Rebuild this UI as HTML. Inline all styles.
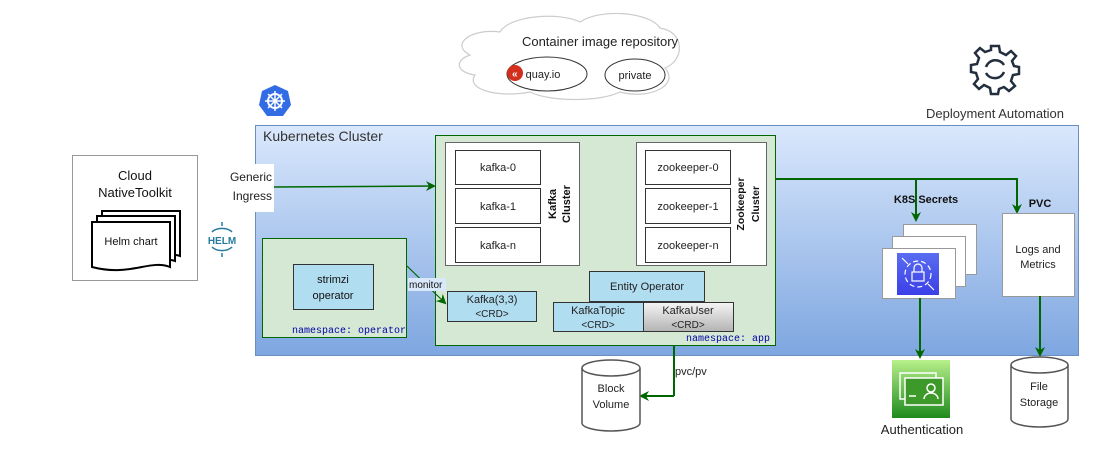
<!DOCTYPE html>
<html><head><meta charset="utf-8"><style>
html,body{margin:0;padding:0;background:#fff;}
svg{display:block;font-family:"Liberation Sans",sans-serif;}
</style></head><body>
<svg width="1120" height="460" viewBox="0 0 1120 460" xmlns="http://www.w3.org/2000/svg">
<defs>
<linearGradient id="kc" x1="0" y1="0" x2="0" y2="1"><stop offset="0" stop-color="#dae8fc"/><stop offset="1" stop-color="#7ea6e0"/></linearGradient>
<linearGradient id="gu" x1="0" y1="0" x2="0" y2="1"><stop offset="0" stop-color="#f5f5f5"/><stop offset="1" stop-color="#b3b3b3"/></linearGradient>
<linearGradient id="sec" x1="0" y1="0" x2="0" y2="1"><stop offset="0" stop-color="#5a6df0"/><stop offset="1" stop-color="#3b3fe8"/></linearGradient>
<linearGradient id="au" x1="0" y1="0" x2="0" y2="1"><stop offset="0" stop-color="#b8f08a"/><stop offset="1" stop-color="#1e8a1e"/></linearGradient>
<marker id="ar" markerWidth="10" markerHeight="10" refX="8" refY="5" orient="auto" markerUnits="userSpaceOnUse"><path d="M0,0 L10,5 L0,10 L3,5 z" fill="#006600"/></marker>
</defs>

<!-- cloud -->
<path d="M470,55 C450,45 470,28 500,32 C510,15 560,12 580,22 C600,8 650,12 660,28 C685,32 685,60 665,68 C680,85 650,100 620,92 C600,102 550,102 530,92 C500,98 465,90 475,75 C455,72 455,60 470,55 z" fill="#fff" stroke="#cccccc" stroke-width="1.2"/>
<text x="600" y="46" font-size="13" text-anchor="middle" fill="#222">Container image repository</text>
<ellipse cx="547" cy="74" rx="40" ry="17" fill="#fff" stroke="#333"/>
<circle cx="515" cy="73" r="8" fill="#d32f1e"/>
<text x="512" y="77" font-size="10" fill="#fff" font-weight="bold">«</text>
<text x="543" y="78" font-size="11" text-anchor="middle" fill="#222">quay.io</text>
<ellipse cx="635" cy="75" rx="30" ry="16" fill="#fff" stroke="#333"/>
<text x="635" y="79" font-size="11" text-anchor="middle" fill="#222">private</text>

<!-- gear -->
<g transform="translate(995,69)" fill="none" stroke="#232f3e" stroke-width="2.5">
<path d="M-4,-23 L4,-23 L5,-17 L11,-14 L16,-18 L21,-13 L17,-8 L19,-3 L24,-2 L24,5 L18,6 L16,12 L20,17 L14,22 L9,18 L4,20 L3,25 L-4,25 L-5,19 L-11,16 L-16,20 L-21,15 L-17,10 L-19,4 L-24,3 L-24,-4 L-18,-5 L-16,-11 L-20,-16 L-15,-21 L-10,-17 L-4,-19 z"/>
<path d="M-9,-2 A10,10 0 0 1 9,-4"/><path d="M9,3 A10,10 0 0 1 -9,4"/>
</g>
<text x="995" y="118" font-size="13" text-anchor="middle" fill="#333">Deployment Automation</text>

<!-- k8s icon -->
<polygon points="275,85 288,91 291,105 283,116 267,116 259,105 262,91" fill="#326ce5"/>
<circle cx="275" cy="101" r="7" fill="none" stroke="#fff" stroke-width="2"/>
<g stroke="#fff" stroke-width="1.5"><line x1="275" y1="91" x2="275" y2="111"/><line x1="265" y1="101" x2="285" y2="101"/><line x1="268" y1="94" x2="282" y2="108"/><line x1="282" y1="94" x2="268" y2="108"/></g>

<!-- cluster -->
<rect x="255.5" y="125.5" width="823" height="230" fill="url(#kc)" stroke="#6c8ebf"/>
<text x="263" y="141" font-size="14" fill="#333">Kubernetes Cluster</text>

<!-- left toolkit -->
<rect x="72.5" y="155.5" width="125" height="125" fill="#fff" stroke="#999"/>
<text x="135" y="180" font-size="13" text-anchor="middle" fill="#111">Cloud</text>
<text x="135" y="197" font-size="13" text-anchor="middle" fill="#111">NativeToolkit</text>
<path d="M102,211 h78 v45 c-10,-4 -20,4 -30,0 h-48 z" fill="#fff" stroke="#000" stroke-width="2"/>
<path d="M97,216 h78 v45 c-10,-4 -20,4 -30,0 h-48 z" fill="#fff" stroke="#000" stroke-width="2"/>
<path d="M92,222 h78 v45 c-20,-8 -40,10 -78,0 z" fill="#fff" stroke="#000" stroke-width="2"/>
<text x="131" y="245" font-size="11" text-anchor="middle" fill="#111">Helm chart</text>
<!-- helm icon -->
<g stroke="#277a9f" stroke-width="1.5" fill="none"><path d="M212,232 a12,8 0 0 1 20,0"/><path d="M212,247 a12,8 0 0 0 20,0"/><line x1="222" y1="222" x2="222" y2="226"/><line x1="222" y1="253" x2="222" y2="257"/></g>
<text x="222" y="244" font-size="10" font-weight="bold" text-anchor="middle" fill="#277a9f">HELM</text>

<!-- ingress -->
<rect x="222" y="164" width="52" height="48" fill="#fff"/>
<text x="272" y="181" font-size="12" text-anchor="end" fill="#222">Generic</text>
<text x="272" y="200" font-size="12" text-anchor="end" fill="#222">Ingress</text>
<line x1="274" y1="187" x2="434" y2="186" stroke="#006600" stroke-width="1.5" marker-end="url(#ar)"/>

<!-- operator namespace -->
<rect x="262.5" y="238.5" width="144" height="99" fill="#d5e8d4" stroke="#006600"/>
<rect x="293.5" y="264.5" width="80" height="45" fill="#b1ddf0" stroke="#333"/>
<text x="333" y="283" font-size="11" text-anchor="middle" fill="#111">strimzi</text>
<text x="333" y="299" font-size="11" text-anchor="middle" fill="#111">operator</text>
<text x="292" y="333" font-size="10" fill="#0000aa" font-family="Liberation Mono,monospace">namespace: operator</text>

<!-- app namespace -->
<rect x="435.5" y="135.5" width="340" height="210" fill="#d5e8d4" stroke="#006600"/>
<rect x="445.5" y="142.5" width="134" height="123" fill="#fff" stroke="#666"/>
<g fill="#fff" stroke="#333"><rect x="455.5" y="150.5" width="85" height="34"/><rect x="455.5" y="188.5" width="85" height="35"/><rect x="455.5" y="227.5" width="85" height="35"/></g>
<g font-size="11" text-anchor="middle" fill="#222"><text x="498" y="171">kafka-0</text><text x="498" y="210">kafka-1</text><text x="498" y="249">kafka-n</text></g>
<text transform="translate(556,204) rotate(-90)" font-size="11" font-weight="bold" text-anchor="middle" fill="#111">Kafka</text>
<text transform="translate(570,204) rotate(-90)" font-size="11" font-weight="bold" text-anchor="middle" fill="#111">Cluster</text>
<rect x="636.5" y="142.5" width="130" height="123" fill="#fff" stroke="#666"/>
<g fill="#fff" stroke="#333"><rect x="645.5" y="150.5" width="85" height="34"/><rect x="645.5" y="188.5" width="85" height="35"/><rect x="645.5" y="227.5" width="85" height="35"/></g>
<g font-size="11" text-anchor="middle" fill="#222"><text x="688" y="171">zookeeper-0</text><text x="688" y="210">zookeeper-1</text><text x="688" y="249">zookeeper-n</text></g>
<text transform="translate(744,204) rotate(-90)" font-size="10.5" font-weight="bold" text-anchor="middle" fill="#111">Zookeeper</text>
<text transform="translate(759,204) rotate(-90)" font-size="10.5" font-weight="bold" text-anchor="middle" fill="#111">Cluster</text>

<rect x="589.5" y="271.5" width="115" height="30" fill="#b1ddf0" stroke="#333"/>
<text x="647" y="290" font-size="11" text-anchor="middle" fill="#222">Entity Operator</text>
<rect x="553.5" y="302.5" width="90" height="29" fill="#b1ddf0" stroke="#333"/>
<text x="598" y="314" font-size="11" text-anchor="middle" fill="#222">KafkaTopic</text>
<text x="598" y="328" font-size="10" text-anchor="middle" fill="#222">&lt;CRD&gt;</text>
<rect x="643.5" y="302.5" width="90" height="29" fill="url(#gu)" stroke="#333"/>
<text x="688" y="314" font-size="11" text-anchor="middle" fill="#222">KafkaUser</text>
<text x="688" y="328" font-size="10" text-anchor="middle" fill="#222">&lt;CRD&gt;</text>
<rect x="447.5" y="291.5" width="89" height="30" fill="#b1ddf0" stroke="#333"/>
<text x="492" y="303" font-size="11" text-anchor="middle" fill="#222">Kafka(3,3)</text>
<text x="492" y="317" font-size="10" text-anchor="middle" fill="#222">&lt;CRD&gt;</text>
<text x="686" y="341" font-size="10" fill="#0000aa" font-family="Liberation Mono,monospace">namespace: app</text>

<!-- monitor -->
<line x1="407" y1="266" x2="445" y2="303" stroke="#006600" stroke-width="1.2" marker-end="url(#ar)"/>
<rect x="408" y="278" width="38" height="13" fill="#dae8fc"/>
<text x="409" y="288" font-size="10" fill="#111">monitor</text>

<!-- right connectors -->
<polyline points="776,179 1017,179 1017,212" fill="none" stroke="#006600" stroke-width="2" marker-end="url(#ar)"/>
<line x1="916" y1="179" x2="916" y2="220" stroke="#006600" stroke-width="2" marker-end="url(#ar)"/>
<text x="926" y="203" font-size="11" font-weight="bold" text-anchor="middle" fill="#111">K8S Secrets</text>
<text x="1040" y="207" font-size="11" font-weight="bold" text-anchor="middle" fill="#111">PVC</text>
<rect x="903.5" y="224.5" width="73" height="50" fill="#fff" stroke="#999"/>
<rect x="892.5" y="236.5" width="73" height="50" fill="#fff" stroke="#999"/>
<rect x="882.5" y="248.5" width="73" height="50" fill="#fff" stroke="#999"/>
<rect x="897" y="253" width="42" height="42" fill="url(#sec)"/>
<g stroke="#fff" stroke-width="1.2" fill="none"><circle cx="918" cy="274" r="13" stroke-dasharray="5 3"/><rect x="912" y="272" width="12" height="9"/><path d="M914,272 v-4 a4,4 0 0 1 8,0 v4"/><line x1="902" y1="258" x2="908" y2="264"/><line x1="934" y1="290" x2="928" y2="284"/></g>
<rect x="1002.5" y="213.5" width="72" height="83" fill="#fff" stroke="#999"/>
<text x="1038" y="253" font-size="11" text-anchor="middle" fill="#222">Logs and</text>
<text x="1038" y="268" font-size="11" text-anchor="middle" fill="#222">Metrics</text>
<line x1="920" y1="298" x2="920" y2="357" stroke="#006600" stroke-width="2" marker-end="url(#ar)"/>
<line x1="1040" y1="296" x2="1040" y2="355" stroke="#006600" stroke-width="2" marker-end="url(#ar)"/>

<!-- auth -->
<rect x="892" y="360" width="58" height="58" fill="url(#au)"/>
<g stroke="#fff" stroke-width="1.5" fill="none"><rect x="900" y="373" width="36" height="26"/><rect x="905" y="378" width="38" height="27" fill="#3d9a2a"/><circle cx="931" cy="388" r="4"/><path d="M924,399 a7,6 0 0 1 14,0"/><line x1="909" y1="396" x2="916" y2="396"/></g>
<text x="922" y="434" font-size="13" text-anchor="middle" fill="#222">Authentication</text>

<!-- file storage -->
<path d="M1011,365 v54 a28.5,8 0 0 0 57,0 v-54" fill="#fff" stroke="#555" stroke-width="1.5"/>
<ellipse cx="1039.5" cy="365" rx="28.5" ry="8" fill="#fff" stroke="#555" stroke-width="1.5"/>
<text x="1039" y="390" font-size="11" text-anchor="middle" fill="#222">File</text>
<text x="1039" y="406" font-size="11" text-anchor="middle" fill="#222">Storage</text>

<!-- block volume -->
<line x1="674" y1="345" x2="674" y2="396" stroke="#006600" stroke-width="2"/>
<line x1="674" y1="396" x2="641" y2="396" stroke="#006600" stroke-width="2" marker-end="url(#ar)"/>
<text x="675" y="375" font-size="11" fill="#222">pvc/pv</text>
<path d="M582,368 v55 a29,8 0 0 0 58,0 v-55" fill="#fff" stroke="#555" stroke-width="1.5"/>
<ellipse cx="611" cy="368" rx="29" ry="8" fill="#fff" stroke="#555" stroke-width="1.5"/>
<text x="611" y="392" font-size="11" text-anchor="middle" fill="#222">Block</text>
<text x="611" y="408" font-size="11" text-anchor="middle" fill="#222">Volume</text>
</svg>
</body></html>
